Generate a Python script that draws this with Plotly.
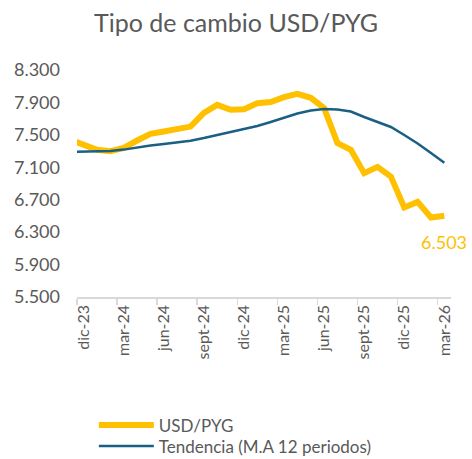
import plotly.graph_objects as go

months = ["nov-23", "dic-23", "ene-24", "feb-24", "mar-24", "abr-24", "may-24",
          "jun-24", "jul-24", "ago-24", "sept-24", "oct-24", "nov-24", "dic-24",
          "ene-25", "feb-25", "mar-25", "abr-25", "may-25", "jun-25", "jul-25",
          "ago-25", "sept-25", "oct-25", "nov-25", "dic-25", "ene-26", "feb-26",
          "mar-26"]
usd_pyg = [7440, 7377, 7315, 7299, 7340, 7430, 7512, 7541, 7570, 7602, 7772,
           7870, 7809, 7817, 7890, 7905, 7965, 8006, 7957, 7830, 7398, 7315,
           7027, 7105, 6985, 6605, 6673, 6481, 6503]
tendencia = [7290, 7294, 7294, 7302, 7318, 7345, 7370, 7388, 7406, 7428, 7461,
             7498, 7535, 7564, 7609, 7658, 7708, 7763, 7800, 7819, 7813, 7788,
             7720, 7659, 7597, 7498, 7394, 7276, 7157]
tick_labels = months[1::3]
last_label = "6.503"

idx = list(range(len(months)))
tick_pos = idx[1::3]
bound_pos = [p - 0.5 for p in tick_pos]

GRAY = "#595959"
GOLD = "#FFC000"
BLUE = "#1A5F84"
FONT = "Lato, sans-serif"

fig = go.Figure()
fig.add_trace(go.Scatter(x=idx, y=usd_pyg, mode="lines", name="USD/PYG",
                         line=dict(color=GOLD, width=6), hoverinfo="skip",
                         legend="legend"))
fig.add_trace(go.Scatter(x=idx, y=tendencia, mode="lines",
                         name="Tendencia (M.A 12 periodos)",
                         line=dict(color=BLUE, width=2.5), hoverinfo="skip",
                         legend="legend2"))

fig.add_annotation(x=idx[-1], y=usd_pyg[-1], text=last_label, showarrow=False,
                   yshift=-26, xanchor="center", yanchor="middle",
                   font=dict(family=FONT, size=18, color=GOLD))

leg_common = dict(xanchor="left", yanchor="middle", orientation="v",
                  font=dict(family=FONT, size=17, color=GRAY),
                  itemwidth=55, bgcolor="rgba(0,0,0,0)")

fig.update_layout(
    width=472, height=459,
    margin=dict(l=77, r=21, t=70, b=162, autoexpand=False),
    paper_bgcolor="white", plot_bgcolor="white",
    separators=",.",
    title=dict(text="Tipo de cambio USD/PYG", x=0.5, xanchor="center",
               y=1 - 23 / 459, yanchor="middle",
               font=dict(family=FONT, size=25, color=GRAY)),
    font=dict(family=FONT, color=GRAY),
    showlegend=True,
    legend=dict(x=0.045, y=-0.566, **leg_common),
    legend2=dict(x=0.045, y=-0.658, **leg_common),
)
fig.update_xaxes(
    range=[0.5, len(months) - 0.5], showgrid=False, zeroline=False,
    tickmode="array", tickvals=tick_pos, ticktext=tick_labels,
    tickangle=-90, ticks="", tickfont=dict(family=FONT, size=16, color=GRAY),
    showline=True, linecolor="#D9D9D9", linewidth=1.5,
    minor=dict(tickmode="array", tickvals=bound_pos, ticks="outside",
               ticklen=6, tickcolor="#D9D9D9", tickwidth=1.5, showgrid=False),
)
fig.update_yaxes(
    range=[5500, 8300], tickmode="linear", tick0=5500, dtick=400,
    tickformat=",d", showgrid=False, zeroline=False, showline=False,
    ticks="", ticklabelstandoff=16,
    tickfont=dict(family=FONT, size=18, color=GRAY),
)

fig.write_html("out.html",
               config={"displayModeBar": False, "staticPlot": True},
               post_script="document.body.style.margin='0px';")
